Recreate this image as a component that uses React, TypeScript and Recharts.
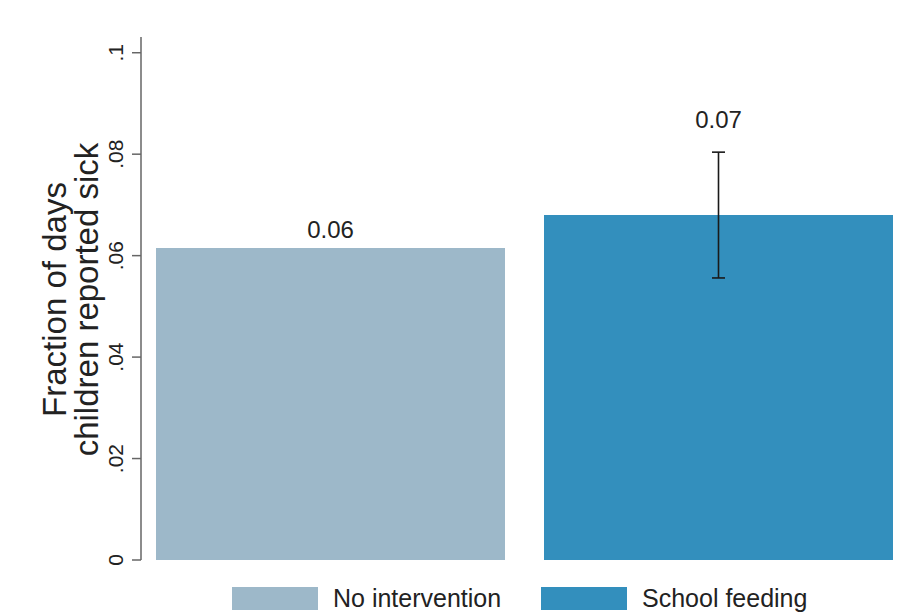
import React from 'react';
import { BarChart, Bar, XAxis, YAxis, ErrorBar, LabelList, Legend } from 'recharts';

const groups = ['No intervention', 'School feeding'];
const means = [0.0615, 0.068];
const ciHalf = [0, 0.0124];
const valueLabels = ['0.06', '0.07'];
const colors = ['#9db8c9', '#338fbd'];
const yTicks = [0, 0.02, 0.04, 0.06, 0.08, 0.1];
const yTickLabels = ['0', '.02', '.04', '.06', '.08', '.1'];
const yLabelLines = ['Fraction of days', 'children reported sick'];

const data = [
  { name: 'all', s0: means[0], s1: means[1], e0: ciHalf[0], e1: ciHalf[1] },
];

const FONT = '"Liberation Sans", Arial, sans-serif';

const YTick = (props: any) => {
  const { x, y, payload } = props;
  const idx = yTicks.indexOf(payload.value);
  const label = idx >= 0 ? yTickLabels[idx] : String(payload.value);
  return (
    <text
      x={x}
      y={y}
      transform={`rotate(-90, ${x}, ${y})`}
      textAnchor="middle"
      fontSize={21}
      fill="#222"
      fontFamily={FONT}
    >
      {label}
    </text>
  );
};

const YLabel = (props: any) => {
  const vb = props.viewBox || {};
  const cy = (vb.y || 0) + (vb.height || 0) / 2 + 1;
  const xs = [66, 98];
  return (
    <g>
      {yLabelLines.map((t, i) => (
        <text
          key={i}
          x={xs[i]}
          y={cy}
          transform={`rotate(-90, ${xs[i]}, ${cy})`}
          textAnchor="middle"
          fontSize={33}
          fill="#222"
          fontFamily={FONT}
        >
          {t}
        </text>
      ))}
    </g>
  );
};

const makeValueLabel = (i: number) => (props: any) => {
  const { x, y, width, height, value } = props;
  if (value == null || !height) return null;
  const pxPerUnit = height / value;
  const bottom = y + height;
  const anchor = means[i] + ciHalf[i];
  const gap = ciHalf[i] > 0 ? 24 : 10;
  const ty = bottom - anchor * pxPerUnit - gap;
  return (
    <text
      x={x + width / 2}
      y={ty}
      textAnchor="middle"
      fontSize={24}
      fill="#222"
      fontFamily={FONT}
    >
      {valueLabels[i]}
    </text>
  );
};

const LegendContent = (props: any) => {
  const payload = props.payload || [];
  return (
    <div style={{ display: 'flex', paddingLeft: 232, fontFamily: FONT }}>
      {payload.map((p: any, i: number) => (
        <div key={i} style={{ display: 'flex', alignItems: 'center', width: 309 }}>
          <div style={{ width: 86, height: 23, background: p.color, marginRight: 15 }} />
          <span style={{ fontSize: 25, color: '#222', lineHeight: '23px' }}>{p.value}</span>
        </div>
      ))}
    </div>
  );
};

export default function App() {
  return (
    <div style={{ position: 'absolute', left: 0, top: 0, width: 914, height: 612, background: '#fff' }}>
      <BarChart
        width={914}
        height={612}
        data={data}
        margin={{ top: 37, right: 7, left: 0, bottom: 27 }}
        barCategoryGap={15}
        barGap={39}
      >
        <XAxis
          dataKey="name"
          tick={false}
          tickLine={false}
          height={0}
          axisLine={{ stroke: '#666', strokeWidth: 1.5 }}
        />
        <YAxis
          width={141}
          domain={[0, 0.1031]}
          ticks={yTicks}
          interval={0}
          tickSize={9}
          tickMargin={9}
          tick={<YTick />}
          tickLine={{ stroke: '#666', strokeWidth: 1.5 }}
          axisLine={{ stroke: '#666', strokeWidth: 1.5 }}
          allowDataOverflow
          label={<YLabel />}
        />
        <Legend
          verticalAlign="bottom"
          height={25}
          wrapperStyle={{ top: 587, left: 0, bottom: 'auto', width: 914 }}
          content={<LegendContent />}
        />
        <Bar dataKey="s0" name={groups[0]} fill={colors[0]} isAnimationActive={false}>
          <LabelList dataKey="s0" content={makeValueLabel(0)} />
        </Bar>
        <Bar dataKey="s1" name={groups[1]} fill={colors[1]} isAnimationActive={false}>
          <ErrorBar dataKey="e1" width={6.5} stroke="#1a1a1a" strokeWidth={1.6} isAnimationActive={false} />
          <LabelList dataKey="s1" content={makeValueLabel(1)} />
        </Bar>
      </BarChart>
    </div>
  );
}
